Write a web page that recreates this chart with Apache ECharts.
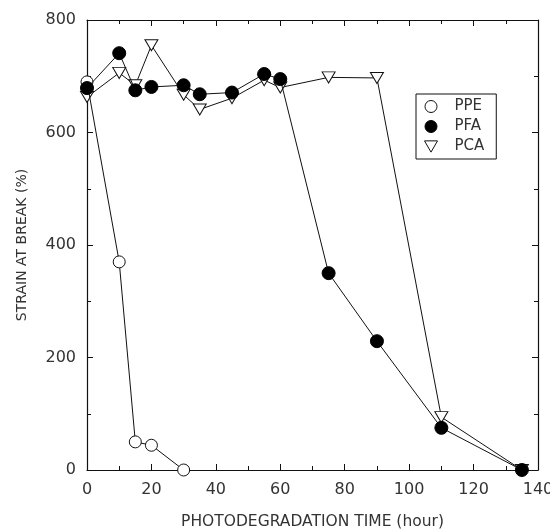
<!DOCTYPE html>
<html><head><meta charset="utf-8">
<script src="https://cdn.jsdelivr.net/npm/echarts@6/dist/echarts.min.js"></script>
<style>html,body{margin:0;padding:0;background:#fff}#c{width:550px;height:529px}</style>
</head><body><div id="c"></div>
<script>
const ppeX = [0, 10, 15, 20, 30];
const ppeY = [690, 370, 50, 44, 0];
const pfaX = [0, 10, 15, 20, 30, 35, 45, 55, 60, 75, 90, 110, 135];
const pfaY = [679, 741, 675, 681, 684, 668, 671, 704, 695, 350, 229, 75, 0];
const pcaX = [0, 10, 15, 20, 30, 35, 45, 55, 60, 75, 90, 110, 135];
const pcaY = [663, 706, 684, 755, 667, 641, 661, 693, 680, 698, 697, 94, 0];
const xTicks = [0, 20, 40, 60, 80, 100, 120, 140];
const yTicks = [0, 200, 400, 600, 800];

const zip = (a, b) => a.map((v, i) => [v, b[i]]);
const txt = '#333';
const font = 'DejaVu Sans';
const downTri = 'path://M0,0 L10,0 L5,8.66 Z';

const axisCommon = () => ({
  axisLine: { show: true, onZero: false, lineStyle: { color: '#111', width: 1.2 } },
  axisTick: { show: true, inside: true, length: 6, lineStyle: { color: '#111' } },
  minorTick: { show: true, splitNumber: 2, length: 4, lineStyle: { color: '#111' } },
  splitLine: { show: false }
});

const chart = echarts.init(document.getElementById('c'));
chart.setOption({
  animation: false,
  grid: { left: 87, right: 12, top: 20, bottom: 59, containLabel: false, outerBoundsMode: 'none' },
  xAxis: [
    Object.assign({
      type: 'value', min: xTicks[0], max: xTicks[xTicks.length - 1], interval: 20,
      position: 'bottom',
      name: 'PHOTODEGRADATION TIME (hour)', nameLocation: 'middle', nameGap: 44,
      nameTextStyle: { fontFamily: font, fontSize: 15.5, color: txt },
      axisLabel: { fontFamily: font, fontSize: 16, color: txt, margin: 12 }
    }, axisCommon()),
    Object.assign({
      type: 'value', min: xTicks[0], max: xTicks[xTicks.length - 1], interval: 20,
      position: 'top', axisLabel: { show: false }
    }, axisCommon())
  ],
  yAxis: [
    Object.assign({
      type: 'value', min: yTicks[0], max: yTicks[yTicks.length - 1], interval: 200,
      position: 'left',
      name: 'STRAIN AT BREAK (%)', nameLocation: 'middle', nameGap: 58,
      nameTextStyle: { fontFamily: font, fontSize: 14, color: txt },
      axisLabel: { fontFamily: font, fontSize: 16, color: txt, margin: 11 }
    }, axisCommon()),
    Object.assign({
      type: 'value', min: yTicks[0], max: yTicks[yTicks.length - 1], interval: 200,
      position: 'right', axisLabel: { show: false }
    }, axisCommon())
  ],
  legend: {
    left: 416, top: 94, orient: 'vertical',
    borderColor: '#111', borderWidth: 1, padding: [5, 12, 5, 8], itemGap: 5,
    itemWidth: 13, itemHeight: 12,
    textStyle: { fontFamily: font, fontSize: 15, color: txt, padding: [0, 0, 0, 12] },
    data: [
      { name: 'PPE', icon: 'circle', itemStyle: { color: '#fff', borderColor: '#111', borderWidth: 1 } },
      { name: 'PFA', icon: 'circle', itemStyle: { color: '#000', borderColor: '#000', borderWidth: 1 } },
      { name: 'PCA', icon: downTri, itemStyle: { color: '#fff', borderColor: '#111', borderWidth: 1 } }
    ]
  },
  series: [
    {
      name: 'PPE', type: 'line', data: zip(ppeX, ppeY), symbol: 'circle', symbolSize: 12,
      lineStyle: { color: '#111', width: 1 },
      itemStyle: { color: '#fff', borderColor: '#111', borderWidth: 1 }, z: 3
    },
    {
      name: 'PFA', type: 'line', data: zip(pfaX, pfaY), symbol: 'circle', symbolSize: 13,
      lineStyle: { color: '#111', width: 1 },
      itemStyle: { color: '#000', borderColor: '#000', borderWidth: 1 }, z: 4
    },
    {
      name: 'PCA', type: 'line', data: zip(pcaX, pcaY), symbol: downTri, symbolSize: [13, 11],
      lineStyle: { color: '#111', width: 1 },
      itemStyle: { color: '#fff', borderColor: '#111', borderWidth: 1 }, z: 2
    }
  ]
});
</script></body></html>
